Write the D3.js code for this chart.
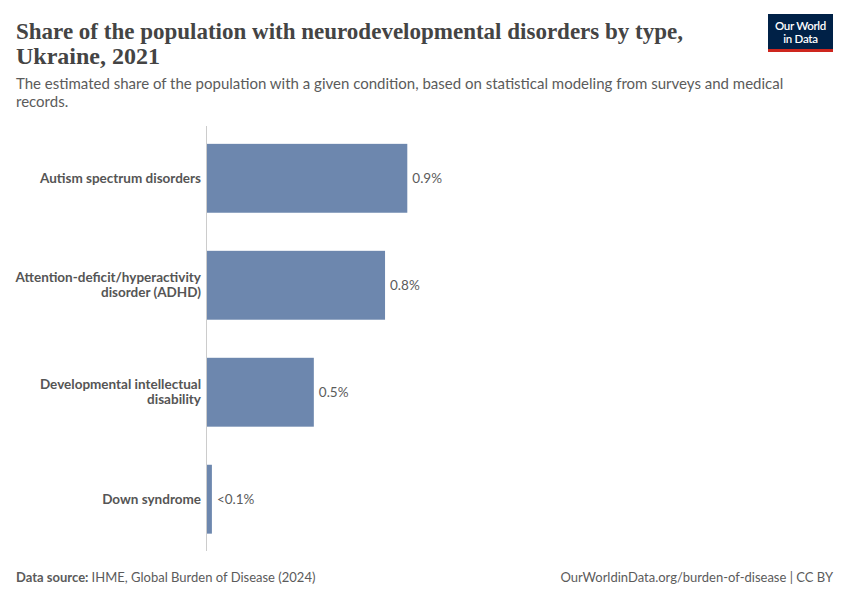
<!DOCTYPE html>
<html>
<head>
<meta charset="utf-8">
<script src="https://cdn.jsdelivr.net/npm/d3@7"></script>
<style>
  body { margin: 0; background: #fff; }
  svg { font-family: Lato, "Open Sans", sans-serif; }
</style>
</head>
<body>
<svg id="chart" width="850" height="600"></svg>
<script>
// data
const categories = [
  ['Autism spectrum disorders'],
  ['Attention-deficit/hyperactivity', 'disorder (ADHD)'],
  ['Developmental intellectual', 'disability'],
  ['Down syndrome']
];
const values = [0.9, 0.8, 0.48, 0.022];
const valueLabels = ['0.9%', '0.8%', '0.5%', '<0.1%'];

const svg = d3.select('#chart');
const box = {left: 207, right: 407.3, top: 126, bottom: 551};

// title + subtitle
const title = svg.append('text')
  .attr('x', 16)
  .style('font-family', '"Liberation Serif", "DejaVu Serif", serif')
  .style('font-size', '24px')
  .style('font-weight', 700)
  .style('fill', '#444');
title.append('tspan').attr('x', 16).attr('y', 39)
  .attr('textLength', 667).attr('lengthAdjust', 'spacingAndGlyphs')
  .text('Share of the population with neurodevelopmental disorders by type,');
title.append('tspan').attr('x', 16).attr('y', 64)
  .text('Ukraine, 2021');

const sub = svg.append('text')
  .style('font-size', '15px')
  .style('fill', '#5b5b5b');
sub.append('tspan').attr('x', 16).attr('y', 89)
  .text('The estimated share of the population with a given condition, based on statistical modeling from surveys and medical');
sub.append('tspan').attr('x', 16).attr('y', 107)
  .text('records.');

// logo
const logo = svg.append('g');
logo.append('rect')
  .attr('x', 768).attr('y', 14).attr('width', 65).attr('height', 38)
  .style('fill', '#002147');
logo.append('rect')
  .attr('x', 768).attr('y', 49).attr('width', 65).attr('height', 3)
  .style('fill', '#ce261e');
logo.selectAll('logo-text')
  .data(['Our World', 'in Data'])
  .enter()
  .append('text')
  .attr('x', 800.5)
  .attr('y', (d, i) => 30 + i * 13)
  .text(d => d)
  .style('text-anchor', 'middle')
  .style('font-size', '11.5px')
  .style('font-weight', 600)
  .style('letter-spacing', '-0.3px')
  .style('fill', '#fff');

// scales
const xScale = d3.scaleLinear()
  .domain([0, d3.max(values)])
  .range([box.left, box.right]);

const yScale = d3.scaleBand()
  .domain(d3.range(values.length))
  .range([138.5, 539])
  .paddingInner(0.356)
  .paddingOuter(0.05);

// axis line
svg.append('line')
  .attr('x1', 206.5).attr('x2', 206.5)
  .attr('y1', box.top).attr('y2', box.bottom)
  .style('stroke', '#ccc')
  .style('stroke-width', 1);

// bars
svg.selectAll('bar-rect')
  .data(values)
  .enter()
  .append('rect')
  .attr('x', xScale(0))
  .attr('y', (d, i) => yScale(i))
  .attr('width', d => xScale(d) - xScale(0))
  .attr('height', yScale.bandwidth())
  .style('fill', '#6d87ae');

// value labels
svg.selectAll('value-label')
  .data(values)
  .enter()
  .append('text')
  .attr('x', d => xScale(d) + 5)
  .attr('y', (d, i) => yScale(i) + yScale.bandwidth() / 2)
  .attr('dy', '0.35em')
  .text((d, i) => valueLabels[i])
  .style('font-size', '13.5px')
  .style('fill', '#5b5b5b');

// category labels
const catLabels = svg.selectAll('cat-label')
  .data(categories)
  .enter()
  .append('text')
  .attr('y', (d, i) => yScale(i) + yScale.bandwidth() / 2)
  .style('text-anchor', 'end')
  .style('font-size', '13.5px')
  .style('font-weight', 700)
  .style('fill', '#555');

catLabels.each(function(lines) {
  const t = d3.select(this);
  const y0 = +t.attr('y');
  lines.forEach((line, j) => {
    t.append('tspan')
      .attr('x', 201)
      .attr('y', y0 + (j - (lines.length - 1) / 2) * 15)
      .attr('dy', '0.35em')
      .text(line);
  });
});

// footer
const src = svg.append('text')
  .attr('x', 16).attr('y', 582)
  .style('font-size', '13px')
  .style('fill', '#5b5b5b');
src.append('tspan').text('Data source: ').style('font-weight', 700);
src.append('tspan').text('IHME, Global Burden of Disease (2024)');

svg.append('text')
  .attr('x', 833).attr('y', 582)
  .text('OurWorldinData.org/burden-of-disease | CC BY')
  .style('text-anchor', 'end')
  .style('font-size', '13px')
  .style('fill', '#5b5b5b');
</script>
</body>
</html>
